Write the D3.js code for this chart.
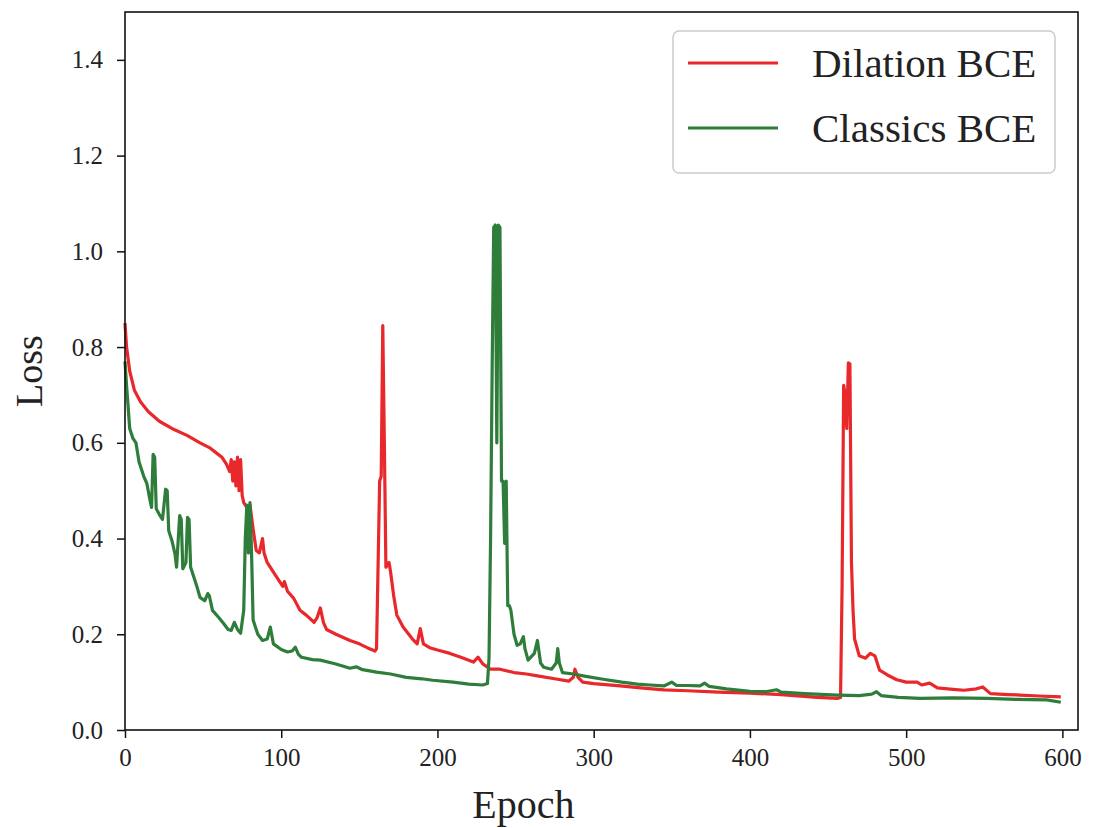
<!DOCTYPE html>
<html>
<head>
<meta charset="utf-8">
<script src="https://cdn.jsdelivr.net/npm/d3@7"></script>
<style>
  body { margin: 0; background: #fff; }
  svg text { font-family: "Liberation Serif", "DejaVu Serif", serif; fill: #222; }
</style>
</head>
<body>
<div id="chart"></div>
<script>
// Dilation BCE (red)
const dilationEpochs = [0,1,3,6,10,15,22,30,40,48,54,58,62,65,67,68,69,70,71,72,73,74,75,76,78,80,82,84,86,88,89,91,95,99,101,102,104,108,112,116,121,123,125,127,129,135,144,150,155,160,161,163,164,165,166,167,169,170,172,174,178,184,187,189,191,195,200,208,215,223,226,229,234,240,249,257,264,275,284,287,288,290,293,300,317,330,345,360,380,400,420,443,456,458,459,460,461,462,463,464,465,466,467,470,474,477,480,483,488,494,500,507,510,515,520,530,537,545,549,554,565,573,585,599];
const dilationLoss = [0.85,0.80,0.75,0.71,0.685,0.665,0.645,0.63,0.615,0.60,0.59,0.58,0.57,0.555,0.54,0.565,0.52,0.56,0.51,0.57,0.50,0.565,0.49,0.475,0.465,0.47,0.42,0.375,0.37,0.40,0.37,0.35,0.33,0.31,0.30,0.31,0.29,0.275,0.25,0.24,0.225,0.235,0.255,0.225,0.21,0.20,0.187,0.18,0.172,0.165,0.17,0.52,0.53,0.845,0.60,0.34,0.35,0.33,0.28,0.24,0.215,0.19,0.18,0.212,0.18,0.172,0.167,0.16,0.152,0.142,0.152,0.138,0.127,0.127,0.12,0.117,0.113,0.107,0.102,0.11,0.127,0.11,0.10,0.097,0.092,0.088,0.084,0.082,0.079,0.077,0.074,0.068,0.066,0.068,0.30,0.72,0.70,0.63,0.767,0.765,0.35,0.25,0.19,0.155,0.15,0.16,0.155,0.125,0.115,0.105,0.10,0.10,0.094,0.098,0.088,0.085,0.083,0.086,0.09,0.076,0.074,0.073,0.071,0.069];

// Classics BCE (green)
const classicsEpochs = [0,1,3,5,7,9,12,14,16,17,18,19,20,22,24,26,27,28,30,32,33,35,36,37,39,40,41,42,44,46,48,51,53,54,56,60,63,66,68,70,72,74,76,77,78,79,80,81,82,85,88,91,93,95,100,104,107,109,111,113,120,125,135,144,148,152,161,170,180,190,197,210,220,229,232,233,234,235,236,237,238,239,240,241,242,243,244,245,246,247,249,251,253,255,256,258,262,264,266,268,273,276,277,278,280,287,295,306,318,328,336,345,350,353,360,368,371,374,385,400,410,417,420,435,456,470,478,481,484,495,509,530,552,570,590,599];
const classicsLoss = [0.77,0.72,0.63,0.61,0.60,0.56,0.53,0.515,0.48,0.465,0.576,0.57,0.462,0.45,0.44,0.503,0.50,0.416,0.396,0.368,0.34,0.448,0.44,0.337,0.35,0.444,0.44,0.34,0.32,0.30,0.277,0.27,0.285,0.28,0.25,0.235,0.223,0.21,0.208,0.225,0.21,0.202,0.25,0.40,0.47,0.37,0.475,0.37,0.23,0.20,0.187,0.19,0.215,0.18,0.168,0.163,0.165,0.173,0.158,0.152,0.147,0.146,0.138,0.129,0.132,0.126,0.121,0.117,0.11,0.107,0.104,0.10,0.096,0.094,0.097,0.15,0.40,0.75,1.05,1.055,0.60,1.055,1.05,0.52,0.52,0.39,0.52,0.26,0.26,0.25,0.20,0.177,0.18,0.195,0.17,0.146,0.16,0.187,0.14,0.131,0.127,0.14,0.17,0.14,0.12,0.117,0.112,0.106,0.10,0.096,0.094,0.092,0.10,0.093,0.093,0.092,0.098,0.091,0.086,0.081,0.08,0.084,0.079,0.076,0.073,0.072,0.075,0.08,0.072,0.068,0.066,0.067,0.066,0.064,0.063,0.058];

const xTicks = [0, 100, 200, 300, 400, 500, 600];
const yTicks = [0, 0.2, 0.4, 0.6, 0.8, 1.0, 1.2, 1.4];
const seriesNames = ["Dilation BCE", "Classics BCE"];
const seriesColors = ["#e8282a", "#2e7d3a"];

const W = 1098, H = 828;
const margin = { top: 12, right: 20, bottom: 98, left: 125 };
const width = W - margin.left - margin.right;
const height = H - margin.top - margin.bottom;

const svg = d3.select("#chart").append("svg")
  .attr("width", W)
  .attr("height", H);

const g = svg.append("g")
  .attr("transform", `translate(${margin.left},${margin.top})`);

const x = d3.scaleLinear().domain([0, 610]).range([0, width]);
const y = d3.scaleLinear().domain([0, 1.5]).range([height, 0]);

const line = d3.line()
  .x(d => x(d[0]))
  .y(d => y(d[1]));

const series = [
  d3.zip(dilationEpochs, dilationLoss),
  d3.zip(classicsEpochs, classicsLoss)
];

g.selectAll(".series")
  .data(series)
  .join("path")
  .attr("class", "series")
  .attr("fill", "none")
  .attr("stroke", (d, i) => seriesColors[i])
  .attr("stroke-width", 3.2)
  .attr("stroke-linejoin", "round")
  .attr("d", line);

// axes
const xAxis = g.append("g")
  .attr("transform", `translate(0,${height})`)
  .call(d3.axisBottom(x).tickValues(xTicks).tickFormat(d3.format("d")).tickSize(8).tickPadding(10));

const yAxis = g.append("g")
  .call(d3.axisLeft(y).tickValues(yTicks).tickFormat(d3.format(".1f")).tickSize(8).tickPadding(14));

[xAxis, yAxis].forEach(a => {
  a.select(".domain").remove();
  a.selectAll("line").attr("stroke", "#111").attr("stroke-width", 1.5);
  a.selectAll("text")
    .attr("font-family", "Liberation Serif, serif")
    .attr("font-size", 25)
    .attr("fill", "#333");
});

// frame
g.append("rect")
  .attr("width", width)
  .attr("height", height)
  .attr("fill", "none")
  .attr("stroke", "#111")
  .attr("stroke-width", 1.6);

// axis labels
svg.append("text")
  .attr("x", margin.left + x(255))
  .attr("y", 818)
  .attr("text-anchor", "middle")
  .attr("font-size", 40)
  .text("Epoch");

svg.append("text")
  .attr("transform", `translate(42,${margin.top + y(0.75)}) rotate(-90)`)
  .attr("text-anchor", "middle")
  .attr("font-size", 38)
  .text("Loss");

// legend
const legend = svg.append("g").attr("transform", "translate(673,31)");
legend.append("rect")
  .attr("width", 382)
  .attr("height", 142)
  .attr("rx", 6)
  .attr("fill", "#fff")
  .attr("fill-opacity", 0.85)
  .attr("stroke", "#ccc")
  .attr("stroke-width", 1.5);

const item = legend.selectAll(".item")
  .data(seriesNames)
  .join("g")
  .attr("class", "item")
  .attr("transform", (d, i) => `translate(0,${32 + i * 65})`);

item.append("line")
  .attr("x1", 15).attr("x2", 105)
  .attr("stroke", (d, i) => seriesColors[i])
  .attr("stroke-width", 3);

item.append("text")
  .attr("x", 139)
  .attr("y", 0)
  .attr("dy", "0.35em")
  .attr("font-size", 41)
  .text(d => d);
</script>
</body>
</html>
